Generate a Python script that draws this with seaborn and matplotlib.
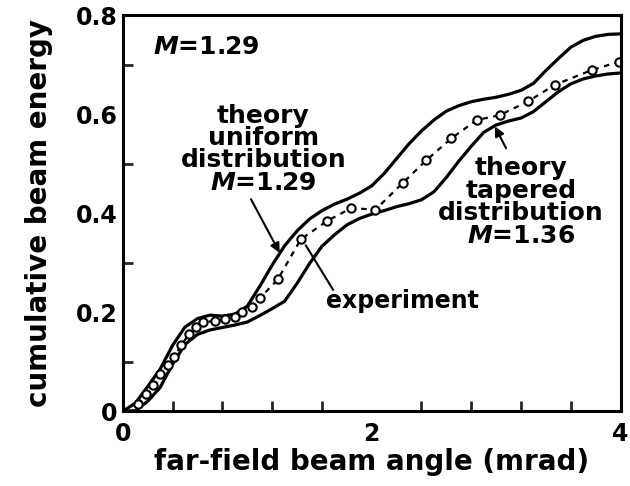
import numpy as np
import pandas as pd
import seaborn as sns
import matplotlib
matplotlib.use("Agg")
import matplotlib.pyplot as plt

# Far-field beam angle (mrad) grid for the theory curves
theory_angle = [0.0, 0.1, 0.2, 0.3, 0.4, 0.5, 0.6, 0.7, 0.8, 0.9,
                1.0, 1.1, 1.2, 1.3, 1.4, 1.5, 1.6, 1.7, 1.8, 1.9,
                2.0, 2.1, 2.2, 2.3, 2.4, 2.5, 2.6, 2.7, 2.8, 2.9,
                3.0, 3.1, 3.2, 3.3, 3.4, 3.5, 3.6, 3.7, 3.8, 3.9, 4.0]

# Theory, uniform distribution, M = 1.29
uniform_energy = [0.000, 0.016, 0.050, 0.085, 0.133, 0.170, 0.187, 0.194, 0.192, 0.196,
                  0.212, 0.252, 0.295, 0.334, 0.364, 0.388, 0.405, 0.418, 0.428, 0.440,
                  0.455, 0.480, 0.510, 0.540, 0.566, 0.588, 0.606, 0.617, 0.625, 0.630,
                  0.634, 0.640, 0.648, 0.662, 0.688, 0.712, 0.735, 0.749, 0.757, 0.761, 0.762]

# Theory, tapered distribution, M = 1.36
tapered_energy = [0.000, 0.001, 0.020, 0.048, 0.095, 0.135, 0.155, 0.164, 0.169, 0.174,
                  0.180, 0.193, 0.207, 0.222, 0.258, 0.298, 0.333, 0.356, 0.376, 0.389,
                  0.398, 0.405, 0.413, 0.419, 0.427, 0.443, 0.472, 0.505, 0.535, 0.563,
                  0.578, 0.586, 0.592, 0.605, 0.625, 0.645, 0.661, 0.671, 0.677, 0.681, 0.683]

# Measured cumulative beam energy
exp_angle = [0.12, 0.19, 0.24, 0.30, 0.36, 0.41, 0.47, 0.53, 0.59, 0.645,
             0.74, 0.82, 0.90, 0.955, 1.04, 1.10, 1.245, 1.43, 1.64, 1.835,
             2.03, 2.25, 2.44, 2.64, 2.845, 3.03, 3.26, 3.47, 3.77, 3.99]
exp_energy = [0.014, 0.034, 0.053, 0.075, 0.093, 0.110, 0.133, 0.155, 0.170, 0.180,
              0.182, 0.186, 0.190, 0.200, 0.210, 0.228, 0.266, 0.347, 0.384, 0.410,
              0.407, 0.461, 0.507, 0.551, 0.588, 0.598, 0.626, 0.659, 0.689, 0.706]

x_major = [0, 2, 4]
x_major_labels = ["0", "2", "4"]
x_minor = [0.4, 0.8, 1.2, 1.6, 2.4, 2.8, 3.2, 3.6]
y_major = [0, 0.2, 0.4, 0.6, 0.8]
y_major_labels = ["0", "0.2", "0.4", "0.6", "0.8"]
y_minor = [0.1, 0.3, 0.5, 0.7]

sns.set_theme(style="white")
plt.rcParams["font.family"] = ["DejaVu Sans"]
plt.rcParams["font.weight"] = "bold"
plt.rcParams["mathtext.fontset"] = "custom"
plt.rcParams["mathtext.it"] = "DejaVu Sans:italic:bold"
plt.rcParams["mathtext.rm"] = "DejaVu Sans:bold"

theory = pd.DataFrame({"angle": theory_angle,
                       "uniform": uniform_energy,
                       "tapered": tapered_energy})
experiment = pd.DataFrame({"angle": exp_angle, "energy": exp_energy})

fig = plt.figure(figsize=(6.3, 4.86), dpi=100)
ax = fig.add_axes([0.195, 0.154, 0.79, 0.815])

sns.lineplot(data=theory, x="angle", y="uniform", ax=ax, color="black",
             lw=2.3, estimator=None)
sns.lineplot(data=theory, x="angle", y="tapered", ax=ax, color="black",
             lw=2.3, estimator=None)
sns.lineplot(data=experiment, x="angle", y="energy", ax=ax, color="black",
             lw=1.6, estimator=None, linestyle=(0, (2.5, 2.5)),
             marker="o", markersize=6, markerfacecolor="white",
             markeredgecolor="black", markeredgewidth=1.5)

ax.set_xlim(0, 4)
ax.set_ylim(0, 0.8)
ax.set_xticks(x_major)
ax.set_xticklabels(x_major_labels)
ax.set_xticks(x_minor, minor=True)
ax.set_yticks(y_major)
ax.set_yticklabels(y_major_labels)
ax.set_yticks(y_minor, minor=True)

ax.tick_params(axis="x", which="major", direction="in", length=16, width=2,
               pad=8, labelsize=17, colors="black")
ax.tick_params(axis="x", which="minor", direction="in", length=7, width=2,
               bottom=True)
ax.tick_params(axis="y", which="major", direction="in", length=13, width=2,
               pad=4, labelsize=17, colors="black")
ax.tick_params(axis="y", which="minor", direction="in", length=7, width=2,
               left=True)
for lab in ax.get_xticklabels() + ax.get_yticklabels():
    lab.set_fontweight("bold")

for side in ["left", "bottom", "right", "top"]:
    ax.spines[side].set_visible(True)
    ax.spines[side].set_color("black")
    ax.spines[side].set_linewidth(2.2)

ax.set_xlabel("far-field beam angle (mrad)", fontsize=20, fontweight="bold",
              labelpad=1, color="black")
ax.set_ylabel("cumulative beam energy", fontsize=20, fontweight="bold",
              labelpad=16, color="black")

txt = dict(fontsize=18, fontweight="bold", color="black")
ax.text(0.24, 0.735, "$M$=1.29", ha="left", va="center", **txt)
ax.text(1.13, 0.529, "theory\nuniform\ndistribution\n$M$=1.29",
        ha="center", va="center", linespacing=0.92, **txt)
ax.text(3.2, 0.422, "theory\ntapered\ndistribution\n$M$=1.36",
        ha="center", va="center", linespacing=0.92, **txt)
ax.text(2.247, 0.222, "experiment", ha="center", va="center",
        fontsize=17, fontweight="bold", color="black")

arrow = dict(arrowstyle="-|>", color="black", lw=1.5, mutation_scale=14,
             shrinkA=0, shrinkB=0)
ax.annotate("", xy=(1.26, 0.32), xytext=(1.03, 0.428), arrowprops=arrow)
ax.annotate("", xy=(2.99, 0.575), xytext=(3.08, 0.531), arrowprops=arrow)
ax.annotate("", xy=(1.47, 0.335), xytext=(1.69, 0.245),
            arrowprops=dict(arrowstyle="-", color="black", lw=1.5,
                            shrinkA=0, shrinkB=0))

fig.savefig("out.png", dpi=100, facecolor="white")
